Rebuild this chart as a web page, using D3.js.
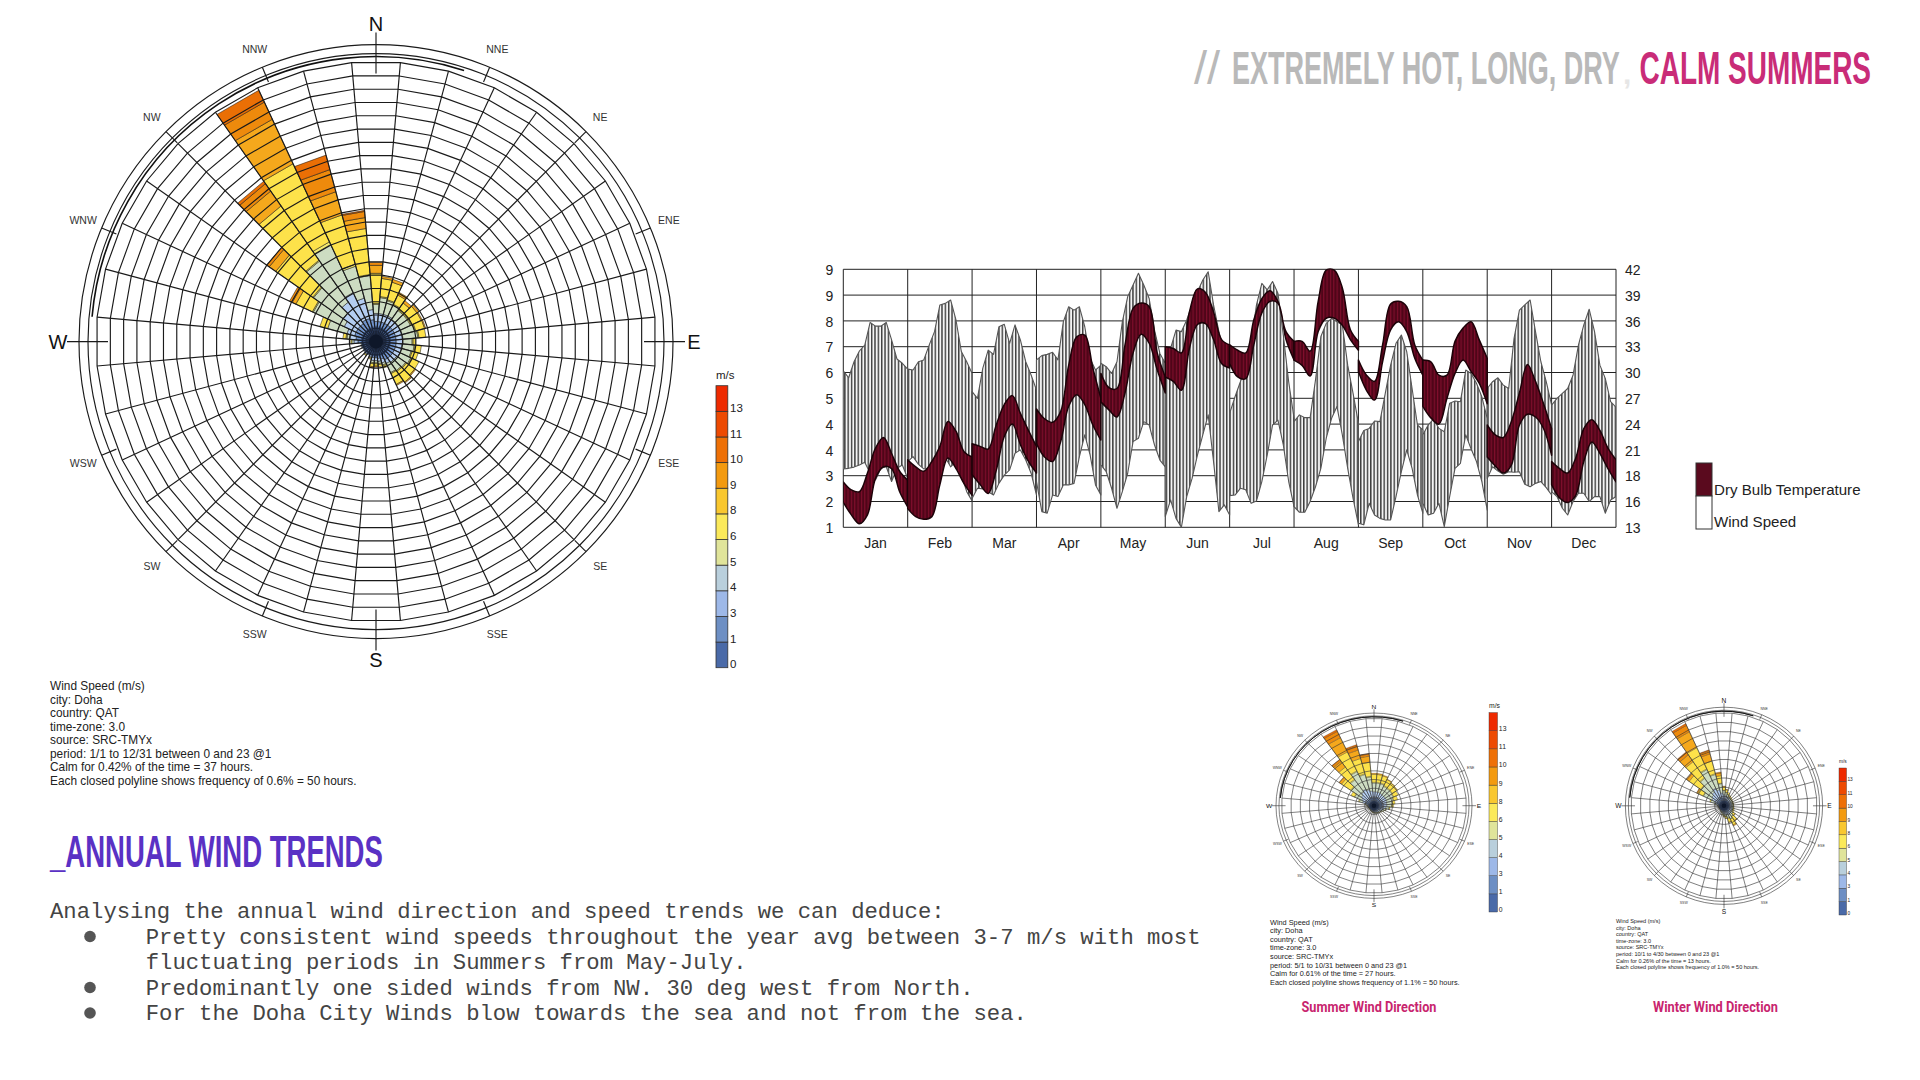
<!DOCTYPE html>
<html><head><meta charset="utf-8">
<script src="https://cdn.jsdelivr.net/npm/d3@7"></script>
<style>html,body{margin:0;padding:0;background:#fff}svg{display:block}</style>
</head><body><svg id="c" width="1920" height="1080"></svg>
<script>
// ---------- data ----------
const months=["Jan","Feb","Mar","Apr","May","Jun","Jul","Aug","Sep","Oct","Nov","Dec"];
const windTickLabels=["1","2","3","4","4","5","6","7","8","9","9"];
const tempTickLabels=["13","16","18","21","24","27","30","33","36","39","42"];
// wind speed envelope, 13 readings per month
const windHigh=[
[6.09,5.87,6.39,6.74,6.93,7.67,7.55,7.55,7.67,7.10,6.48,6.34,6.15],
[6.15,6.12,6.39,6.45,6.93,7.37,8.24,8.29,8.40,7.75,6.72,6.39,6.01],
[5.42,5.20,6.18,6.77,6.63,7.53,7.61,6.99,7.59,7.10,6.39,5.96,5.47],
[6.45,6.59,6.63,6.70,6.45,7.69,8.18,8.07,8.18,7.53,6.50,6.12,6.28],
[6.34,6.23,6.01,6.39,7.69,8.51,8.89,9.27,8.89,8.45,7.42,6.66,6.34],
[6.39,6.83,7.42,7.37,7.75,8.24,8.67,9.05,9.32,8.24,7.37,6.61,6.18],
[4.71,5.25,5.74,6.28,7.04,8.24,8.94,8.73,9.00,8.62,7.26,5.74,4.55],
[4.44,4.66,4.57,4.57,5.80,7.21,7.64,7.80,7.69,7.59,6.28,5.36,4.39],
[3.79,4.15,4.22,4.46,4.44,5.36,6.28,6.99,7.26,6.72,5.52,4.33,4.17],
[4.01,4.33,4.53,4.22,4.11,5.04,5.11,5.09,6.12,6.01,5.69,5.25,4.55],
[5.52,5.74,5.87,5.63,5.52,7.15,8.07,8.24,8.40,7.37,6.39,5.74,4.98],
[4.98,5.20,5.36,5.52,5.96,6.93,7.59,8.10,7.37,6.28,5.85,5.09,4.91]];
const windLow=[
[2.90,2.92,2.96,3.03,3.12,2.76,2.54,2.92,2.97,2.49,2.92,3.03,2.59],
[3.14,3.30,3.05,2.90,2.92,3.14,3.14,3.27,2.97,3.14,2.70,2.16,1.86],
[1.94,2.27,2.25,2.16,2.05,2.43,2.70,2.87,3.41,3.52,3.19,2.76,2.05],
[2.49,1.51,1.46,2.05,2.00,2.38,2.38,2.43,3.30,4.01,3.35,2.38,2.05],
[3.03,2.81,2.27,1.62,2.16,2.76,3.79,3.90,4.44,4.33,3.68,3.19,2.97],
[1.35,1.89,1.29,1.00,2.00,2.59,3.35,4.01,4.66,3.14,1.51,1.73,1.40],
[2.03,2.05,2.27,2.22,1.78,1.86,2.49,3.35,4.33,4.49,3.68,2.49,1.67],
[1.67,1.49,1.49,1.84,2.32,2.92,3.90,4.55,4.93,4.01,2.92,1.94,1.08],
[1.13,1.08,1.78,1.40,1.29,1.24,1.24,2.00,2.81,3.52,2.92,2.05,1.46],
[1.78,1.40,1.46,1.78,1.02,2.00,2.92,3.08,4.01,3.55,3.14,2.49,1.56],
[2.59,2.97,2.83,2.73,2.81,2.79,2.81,2.40,2.32,2.43,2.49,2.29,2.05],
[2.16,2.00,1.62,1.40,1.84,2.11,2.11,1.84,2.00,2.00,1.46,1.89,2.00]];
// dry bulb temperature envelope, 9 readings per month
const tempHigh=[
[18.1,17.2,17.0,19.1,21.9,23.1,21.3,19.3,18.3],
[20.6,19.8,19.3,20.4,22.1,24.9,23.8,21.5,20.9],
[22.4,22.1,21.8,24.5,26.8,27.8,25.8,23.9,22.1],
[26.3,25.2,24.8,26.0,31.2,34.4,34.6,30.9,27.5],
[30.3,28.7,28.6,33.5,37.6,38.2,37.8,32.6,29.9],
[33.3,33.1,32.6,37.2,39.8,39.4,37.2,34.1,33.5],
[33.5,32.9,32.6,36.3,38.7,39.6,38.4,35.0,33.9],
[33.9,33.9,32.8,38.4,41.9,41.9,39.9,35.2,33.9],
[31.8,30.1,29.4,33.5,38.1,38.4,37.8,33.5,31.8],
[31.8,31.6,30.1,30.1,33.9,35.4,36.1,34.1,32.0],
[24.5,23.4,23.1,24.9,28.1,31.3,29.4,26.9,24.1],
[20.4,19.6,19.1,20.8,24.1,25.1,23.9,21.9,20.6]];
const tempLow=[
[15.8,14.4,13.4,14.4,18.5,19.8,19.6,17.0,15.3],
[15.1,14.2,13.9,14.2,17.8,20.8,19.6,17.9,16.6],
[18.9,17.8,16.8,19.4,23.2,24.6,22.3,20.4,19.1],
[22.4,20.9,20.4,22.6,26.6,27.9,26.8,24.5,22.8],
[27.1,26.2,25.4,28.1,32.6,34.7,33.7,30.7,28.1],
[29.9,29.4,28.4,33.1,35.8,35.9,34.1,31.4,30.9],
[31.4,29.9,29.7,33.5,37.1,38.4,38.2,34.1,31.8],
[31.8,31.2,30.0,35.0,36.5,36.5,35.7,34.1,32.9],
[30.5,28.4,27.3,31.6,35.2,36.1,35.0,32.0,30.1],
[26.6,25.3,24.6,27.5,30.3,31.8,30.5,29.2,26.9],
[20.9,19.9,19.1,20.0,24.5,25.7,25.4,24.1,21.1],
[17.8,16.3,15.8,16.6,20.4,22.6,21.3,19.6,18.1]];
const speedBins=["0","1","3","4","5","6","8","9","10","11","13"];
const compass16=["N","NNE","NE","ENE","E","ESE","SE","SSE","S","SSW","SW","WSW","W","WNW","NW","NNW"];
// hours per speed bin for each 10-degree direction, clockwise from north
const annualHours=[
[38,38,30,34,4,113,30,11],[38,38,30,60,4,68,8],[38,38,30,53,4,68,11],[38,38,30,45,4,38,11],
[38,38,26,41,4,30,11],[38,38,26,41,4,41,8],[38,38,26,41,4,41,4],[38,38,26,49,4,34,4],
[38,38,26,56,4,26],[38,38,26,34,4,8],[38,38,23,45,4,23],[38,38,23,38,4,23],
[38,38,23,45,4,30],[38,38,19,41,4,38,4],[38,38,19,38,4,49,4],[38,38,15,38,4,45,4],
[38,30,15,8,4,8],[38,26,11,8,4,8],[38,23,11,8,4,8,4],[38,23,11,8,4,11,4],
[38,15,8,4,0,4],[38,11,4,4],[38,11,8,4,0,4],[38,8,8,4],
[38,8,4,4],[38,8,8,4],[38,11,4,4],[38,30,15,8,0,4],
[38,38,23,11,4,11],[38,45,30,75,0,30],[38,45,49,128,4,68,15,11],[38,45,68,135,4,169,30,11],
[38,45,98,188,4,248,68,34,11],[45,45,113,199,11,323,184,71,49],[45,45,79,124,8,191,90,86,56],[38,45,38,128,4,173,41,23,4]];
const summerHours=[
[20,25,35,50,5,45,6],[20,25,35,50,5,45,6],[20,25,35,50,5,42,5],[20,25,32,45,5,38,3],
[20,25,30,45,5,33,2],[20,25,30,44,4,31,2],[20,25,30,40,4,26],[20,25,28,35,4,21],
[20,25,25,30,3,12],[20,25,25,25,3,8],[20,25,20,18,1,4],[20,20,15,12,1,2],
[20,18,12,10,0,2],[20,15,10,6,0,2],[20,14,8,6,0,2],[20,14,8,4,0,2],
[20,12,7,4,0,2],[20,12,7,4,0,2],[20,11,6,3,0,2],[20,10,6,2,0,2],
[20,8,5,2,0,1],[20,7,4,2,0,1],[20,6,3,2,0,1],[20,6,3,2,0,1],
[20,5,3,1,0,1],[20,7,4,2,0,1],[20,7,4,2,0,1],[20,10,5,3,0,2],
[20,15,8,5,0,2],[20,25,20,18,0,5],[20,25,30,40,3,20],[20,25,40,65,5,60,14,3],
[20,25,50,85,5,85,40,12,2],[20,25,60,110,5,120,90,40,10],[20,25,50,90,5,90,50,25,7],[20,25,40,80,5,80,35,12,3]];
const winterHours=[
[20,20,20,22,2,18,4],[20,18,16,18,2,13,2],[20,16,14,14,1,10],[20,15,12,10,1,6],
[20,14,10,10,1,5],[20,14,9,8,0,4],[20,13,8,8,0,4],[20,13,8,8,0,4],
[20,13,8,8,0,4],[20,13,8,8,0,4],[20,14,8,8,0,5],[20,14,9,9,0,6],
[20,15,9,9,0,7],[20,16,11,12,1,13,2],[20,18,14,18,2,24,4],[20,20,16,22,2,34,6],
[20,18,14,18,2,20,3],[20,16,10,12,1,9,2],[20,14,9,9,0,7,1],[20,12,8,6,0,4],
[20,9,5,4,0,2],[20,8,4,3,0,1],[20,6,3,2,0,1],[20,5,3,1,0,1],
[20,5,3,1,0,1],[20,5,3,1,0,1],[20,5,3,1,0,1],[20,8,4,3,0,1],
[20,13,8,7,0,2],[20,20,15,20,0,5],[20,22,30,50,3,30,6,2],[20,25,35,70,4,75,15,4],
[20,25,45,90,5,105,45,16,4],[20,25,60,110,5,125,95,38,10],[20,25,45,85,5,70,40,18,4],[20,22,28,50,3,40,15,5]];
const annualNotes=["Wind Speed (m/s)","city: Doha","country: QAT","time-zone: 3.0","source: SRC-TMYx","period: 1/1 to 12/31 between 0 and 23 @1","Calm for 0.42% of the time = 37 hours.","Each closed polyline shows frequency of 0.6% = 50 hours."];
const summerNotes=["Wind Speed (m/s)","city: Doha","country: QAT","time-zone: 3.0","source: SRC-TMYx","period: 5/1 to 10/31 between 0 and 23 @1","Calm for 0.61% of the time = 27 hours.","Each closed polyline shows frequency of 1.1% = 50 hours."];
const winterNotes=["Wind Speed (m/s)","city: Doha","country: QAT","time-zone: 3.0","source: SRC-TMYx","period: 10/1 to 4/30 between 0 and 23 @1","Calm for 0.26% of the time = 13 hours.","Each closed polyline shows frequency of 1.0% = 50 hours."];
const bodyLines=["Analysing the annual wind direction and speed trends we can deduce:"];
const bulletLines=[
 ["Pretty consistent wind speeds throughout the year avg between 3-7 m/s with most","fluctuating periods in Summers from May-July."],
 ["Predominantly one sided winds from NW. 30 deg west from North."],
 ["For the Doha City Winds blow towards the sea and not from the sea."]];

// ---------- styles ----------
const legendColors=["#4a6aa8","#6d8fc4","#9db8e8","#b9cfdc","#e0e49a","#fbe95a","#f9c72f","#f39a10","#ee7006","#ed4a02","#ee2a00"];
const roseColors=["#4a6aa8","#7093cc","#b4cdf0","#cddcc2","#f4ea6e","#fde24a","#f5a81c","#ee8a0c","#ea6f05","#a84a10","#7a3010"];
const SANS="'Liberation Sans',Arial,sans-serif";
const svg=d3.select("#c");
const defs=svg.append("defs");
function hatch(id,bg,fg,w){
  const p=defs.append("pattern").attr("id",id).attr("patternUnits","userSpaceOnUse")
   .attr("x",843.3).attr("y",0).attr("width",3.35).attr("height",10);
  p.append("rect").attr("width",3.35).attr("height",10).attr("fill",bg);
  p.append("rect").attr("x",1).attr("width",w).attr("height",10).attr("fill",fg);
}
hatch("hw","#f4f4f4","#111",1.15);
hatch("ht","#4f0518","#8a0f30",0.9);
defs.append("clipPath").attr("id","plotClip").append("rect")
 .attr("x",843.3).attr("y",268.3).attr("width",772.7).attr("height",259.5);

// ---------- rose ----------
function drawRose(o){
  const g=svg.append("g").attr("transform",`translate(${o.cx},${o.cy}) scale(${o.sx},${o.sy})`);
  const R=280, rr=d3.scaleLinear([0,o.rings*50],[0,R]);
  const a=d=>d*Math.PI/180;
  const dirs=d3.range(36);
  const series=d3.stack().keys(d3.range(speedBins.length)).value((row,k)=>row[k]||0)(o.rows);
  const wedge=d3.areaRadial().angle(d=>d.t).innerRadius(d=>rr(d.v0)).outerRadius(d=>rr(d.v1));
  series.forEach((s,k)=>{
    g.append("g").selectAll("path").data(s.map((v,i)=>({v0:v[0],v1:v[1],i})).filter(d=>d.v1>d.v0)).join("path")
     .attr("fill",roseColors[k]).attr("stroke","#111").attr("stroke-width",o.band)
     .attr("d",d=>wedge([{t:a(d.i*10-5),v0:d.v0,v1:d.v1},{t:a(d.i*10+5),v0:d.v0,v1:d.v1}]));
  });
  const ring=d3.lineRadial().angle(d=>a(d*10+5)).curve(d3.curveLinearClosed);
  g.append("g").selectAll("path").data(d3.range(1,o.rings+1)).join("path")
   .attr("fill","none").attr("stroke",o.ink).attr("stroke-width",o.line)
   .attr("d",k=>ring.radius(()=>rr(k*50))(dirs));
  const spoke=d3.lineRadial().curve(d3.curveLinear);
  g.append("g").selectAll("path").data(dirs).join("path")
   .attr("fill","none").attr("stroke",o.ink).attr("stroke-width",o.line)
   .attr("d",i=>spoke([[a(i*10+5),0],[a(i*10+5),R]]));
  g.selectAll("circle.o").data([288,297]).join("circle").attr("r",d=>d).attr("fill","none")
   .attr("stroke",o.ink).attr("stroke-width",o.line);
  g.append("path").attr("fill","none").attr("stroke","#111").attr("stroke-width",o.line*1.4)
   .attr("d",d3.arc()({innerRadius:285,outerRadius:285,startAngle:a(-85),endAngle:a(18)}));
  g.append("circle").attr("r",7).attr("fill","#000");
  g.append("circle").attr("r",15).attr("fill","#1a2a4a").attr("opacity",0.55);
  // compass ticks and labels
  compass16.forEach((lab,i)=>{
    const t=a(i*22.5), major=i%4===0, s=Math.sin(t), c=-Math.cos(t);
    g.append("line").attr("x1",s*(major?268:281)).attr("y1",c*(major?268:281))
     .attr("x2",s*(major?309:297)).attr("y2",c*(major?309:297))
     .attr("stroke",o.ink).attr("stroke-width",o.line);
    g.append("text").attr("x",s*(major?318:317)).attr("y",c*(major?318:317))
     .attr("text-anchor","middle").attr("dominant-baseline","central")
     .attr("font-family",SANS).attr("font-size",major?20:10.5).attr("fill",major?"#111":"#333").text(lab);
  });
}
drawRose({cx:376,cy:341.6,sx:1,sy:1,rings:21,rows:annualHours,ink:"#1a1a1a",line:1.15,band:0.5});
drawRose({cx:1374,cy:805.7,sx:0.33,sy:0.312,rings:10,rows:summerHours,ink:"#333",line:1.9,band:0.8});
drawRose({cx:1724,cy:805.8,sx:0.332,sy:0.332,rings:10,rows:winterHours,ink:"#333",line:1.9,band:0.8});

// ---------- colour legends ----------
function speedLegend(x,y0,y1,w,fs,titleY){
  const y=d3.scaleBand(speedBins,[y1,y0]);
  const g=svg.append("g");
  g.selectAll("rect").data(speedBins).join("rect")
   .attr("x",x).attr("y",d=>y(d)).attr("width",w).attr("height",y.bandwidth())
   .attr("fill",(d,i)=>legendColors[i]).attr("stroke","#333").attr("stroke-width",fs>9?0.8:0.4);
  g.selectAll("text").data(speedBins).join("text")
   .attr("x",x+w+fs*0.2).attr("y",d=>y(d)+y.bandwidth()-fs*0.3).attr("dominant-baseline","central")
   .attr("font-family",SANS).attr("font-size",fs).attr("fill","#222").text(d=>d);
  svg.append("text").attr("x",x).attr("y",titleY).attr("font-family",SANS).attr("font-size",fs).attr("fill","#222").text("m/s");
}
speedLegend(716,385.7,667.7,11.8,11.5,379);
speedLegend(1489,712.6,912,8.5,6.8,708);
speedLegend(1839,768,915,7.5,4.8,763);

// ---------- note blocks ----------
function notes(lines,x,y,step,fs){
  svg.append("g").selectAll("text").data(lines).join("text")
   .attr("x",x).attr("y",(d,i)=>y+i*step).attr("font-family",SANS).attr("font-size",fs).attr("fill","#222").text(d=>d);
}
notes(annualNotes,50,690,13.55,11.85);
notes(summerNotes,1270,924.5,8.6,7.33);
notes(winterNotes,1616,923,6.6,5.54);

// ---------- line chart ----------
const px0=843.3, px1=1616, py0=527.3, py1=269.3;
const monthX=d3.scaleLinear([0,12],[px0,px1]);
const windY=d3.scaleLinear([1,9.4],[py0,py1]);
const tempY=d3.scaleLinear([13,42],[py0,py1]);
const gridTicks=windTickLabels.map((_,i)=>i);
const gridY=d3.scaleLinear([0,10],[py0,py1]);
const chart=svg.append("g");
chart.append("g").selectAll("line").data(gridTicks).join("line")
 .attr("x1",px0).attr("x2",px1).attr("y1",d=>gridY(d)).attr("y2",d=>gridY(d)).attr("stroke","#222").attr("stroke-width",1);
chart.append("g").selectAll("line").data(d3.range(13)).join("line")
 .attr("x1",d=>monthX(d)).attr("x2",d=>monthX(d)).attr("y1",py1).attr("y2",py0).attr("stroke","#222").attr("stroke-width",1);
function band(hi,lo,y,fill,stroke,sw,curve){
  const ar=d3.area().curve(curve).x(d=>monthX(d.x)).y0(d=>y(d.lo)).y1(d=>y(d.hi));
  chart.append("g").attr("clip-path","url(#plotClip)").selectAll("path")
   .data(months.map((_,m)=>hi[m].map((h,i)=>({x:m+i/(hi[m].length-1),hi:h,lo:lo[m][i]})))).join("path")
   .attr("d",ar).attr("fill",fill).attr("stroke",stroke).attr("stroke-width",sw).attr("stroke-linejoin","round");
}
band(windHigh,windLow,windY,"url(#hw)","#555",1.1,d3.curveLinear);
band(tempHigh,tempLow,tempY,"url(#ht)","#1c0208",1.5,d3.curveCatmullRom);
function styleAxis(s){s.select(".domain").remove();s.selectAll("line").remove();
  s.selectAll("text").attr("font-family",SANS).attr("font-size",14).attr("fill","#222");}
svg.append("g").attr("transform",`translate(${px0-1},0.8)`)
 .call(d3.axisLeft(gridY).tickValues(gridTicks).tickSize(0).tickPadding(9).tickFormat(i=>windTickLabels[i])).call(styleAxis);
svg.append("g").attr("transform",`translate(${px1},0.8)`)
 .call(d3.axisRight(gridY).tickValues(gridTicks).tickSize(0).tickPadding(9).tickFormat(i=>tempTickLabels[i])).call(styleAxis);
svg.append("g").attr("transform",`translate(0,${py0+6})`)
 .call(d3.axisBottom(d3.scaleBand(months,[px0,px1])).tickSize(0).tickPadding(5)).call(styleAxis);
// chart legend
svg.append("rect").attr("x",1696).attr("y",463).attr("width",16).attr("height",33).attr("fill","#5a0a1e").attr("stroke","#333");
svg.append("rect").attr("x",1696).attr("y",496).attr("width",16).attr("height",33).attr("fill","#fff").attr("stroke","#333");
[["Dry Bulb Temperature",495],["Wind Speed",527]].forEach(([t,y])=>
  svg.append("text").attr("x",1714).attr("y",y).attr("font-family",SANS).attr("font-size",15.1).attr("fill","#222").text(t));

// ---------- headings (bold sans squeezed horizontally to the condensed width) ----------
function squeezed(t,x,y,len,fs,fill,fam,w){
  const el=svg.append("text").attr("font-family",fam||SANS).attr("font-weight",w||700).attr("font-size",fs).attr("fill",fill).text(t);
  const natural=el.node().getComputedTextLength();
  el.attr("transform",`translate(${x},${y}) scale(${len/natural},1)`);
}
svg.append("text").attr("x",1194).attr("y",84).attr("font-family",SANS).attr("font-weight",400).attr("font-size",47).attr("fill","#b9b9b9").text("//");
squeezed("EXTREMELY HOT, LONG, DRY",1232,84,388,47,"#b9b9b9");
svg.append("text").attr("x",1623).attr("y",84).attr("font-family",SANS).attr("font-weight",700).attr("font-size",30).attr("fill","#e6e6e6").text(",");
squeezed("CALM SUMMERS",1639.6,84,231.5,47,"#c92c78");
squeezed("_ANNUAL WIND TRENDS",50,867,333,44,"#5a31c4");
squeezed("Summer Wind Direction",1301.5,1011.5,135,14,"#c8246e","Roboto,sans-serif");
squeezed("Winter Wind Direction",1653,1011.5,125,14,"#c8246e","Roboto,sans-serif");

// ---------- body text ----------
const MONO="'Liberation Mono','DejaVu Sans Mono',monospace";
const lineH=25.5; let ly=918;
bodyLines.forEach(t=>{svg.append("text").attr("x",50).attr("y",ly).attr("font-family",MONO).attr("font-size",22.25).attr("fill","#444").text(t);ly+=lineH;});
bulletLines.forEach(item=>{
  svg.append("circle").attr("cx",90).attr("cy",ly-7).attr("r",5.8).attr("fill","#555");
  item.forEach(t=>{svg.append("text").attr("x",145.7).attr("y",ly).attr("font-family",MONO).attr("font-size",22.25).attr("fill","#444").text(t);ly+=lineH;});
});
</script></body></html>
